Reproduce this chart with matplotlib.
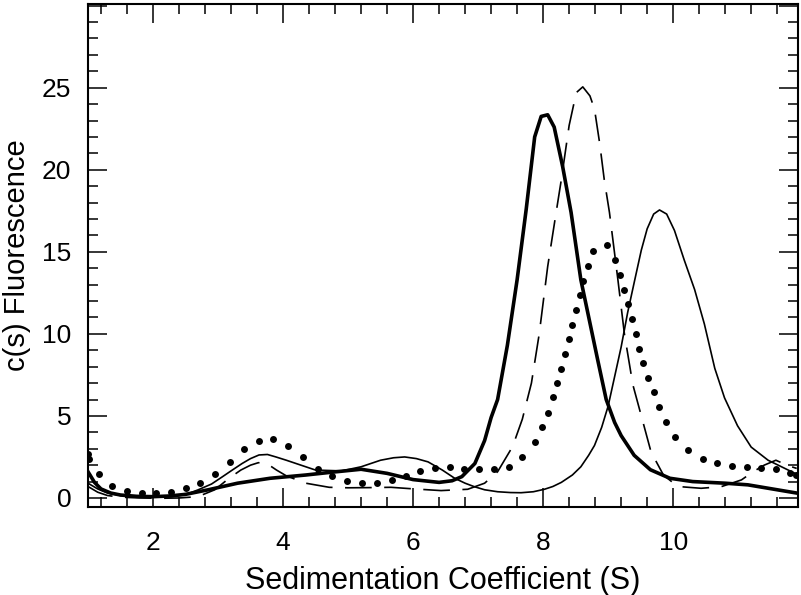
import numpy as np
import matplotlib
matplotlib.use("Agg")
import matplotlib.pyplot as plt
from matplotlib.ticker import MultipleLocator

plt.rcParams['font.family'] = ['Liberation Sans', 'DejaVu Sans']

# thick solid
thick_x = [1.0, 1.1, 1.2, 1.35, 1.5, 1.75, 2.0, 2.25, 2.5, 2.85, 3.3, 3.8, 4.35, 4.7, 5.2, 5.6,
           6.0, 6.4, 6.6, 6.75, 6.95, 7.1, 7.2, 7.3, 7.45, 7.6, 7.74, 7.87, 7.97, 8.07, 8.17, 8.3,
           8.43, 8.58, 8.71, 8.84, 8.97, 9.1, 9.2, 9.4, 9.65, 9.95, 10.3, 10.8, 11.15, 11.45, 11.9]
thick_y = [1.6, 0.95, 0.55, 0.3, 0.18, 0.1, 0.08, 0.12, 0.22, 0.5, 0.9, 1.2, 1.4, 1.55, 1.75, 1.5,
           1.12, 0.95, 1.05, 1.3, 2.1, 3.5, 4.9, 6.0, 9.3, 13.3, 17.6, 22.0, 23.25, 23.35, 22.6, 20.2,
           17.4, 13.3, 10.85, 8.4, 6.0, 4.6, 3.8, 2.6, 1.72, 1.2, 1.0, 0.9, 0.8, 0.6, 0.3]

# thin solid
thin_x = [1.0, 1.15, 1.3, 1.5, 1.77, 2.0, 2.28, 2.5, 2.69, 2.9, 3.07, 3.2, 3.37, 3.5, 3.63, 3.76,
          3.89, 4.05, 4.2, 4.5, 4.9, 5.2, 5.5, 5.7, 5.87, 6.05, 6.23, 6.45, 6.64, 6.8, 6.94, 7.1,
          7.3, 7.5, 7.66, 7.85, 8.02, 8.15, 8.28, 8.45, 8.58, 8.7, 8.79, 8.9, 9.0, 9.1, 9.2, 9.3,
          9.41, 9.51, 9.6, 9.7, 9.79, 9.9, 10.02, 10.17, 10.33, 10.48, 10.64, 10.79, 10.99, 11.2,
          11.46, 11.77, 11.9]
thin_y = [0.9, 0.55, 0.3, 0.15, 0.08, 0.06, 0.08, 0.2, 0.49, 0.85, 1.3, 1.65, 2.1, 2.4, 2.62, 2.65,
          2.5, 2.3, 2.1, 1.7, 1.65, 1.9, 2.3, 2.45, 2.5, 2.4, 2.2, 1.7, 1.2, 0.9, 0.69, 0.5,
          0.38, 0.33, 0.32, 0.38, 0.53, 0.7, 0.95, 1.4, 1.9, 2.6, 3.2, 4.3, 5.6, 7.4, 9.2, 11.3,
          13.3, 15.1, 16.4, 17.3, 17.55, 17.3, 16.3, 14.5, 12.7, 10.6, 7.9, 6.1, 4.4, 3.1,
          2.3, 1.7, 1.45]

# dashed
dash_x = [1.0, 1.15, 1.3, 1.5, 1.8, 2.1, 2.4, 2.69, 2.95, 3.17, 3.35, 3.5, 3.62, 3.75, 3.9, 4.05,
          4.35, 4.71, 5.0, 5.3, 5.66, 6.02, 6.43, 6.84, 7.1, 7.3, 7.53, 7.68, 7.82, 7.94, 8.07,
          8.2, 8.28, 8.4, 8.51, 8.61, 8.72, 8.79, 8.87, 8.94, 9.02, 9.15, 9.25, 9.38, 9.51, 9.66,
          9.85, 10.07, 10.43, 10.74, 11.05, 11.23, 11.4, 11.58, 11.75, 11.9]
dash_y = [0.7, 0.35, 0.15, 0.05, 0.0, -0.02, 0.0, 0.08, 0.5, 1.2, 1.7, 2.0, 2.15, 2.1, 1.7, 1.35,
          0.9, 0.65, 0.62, 0.63, 0.65, 0.55, 0.45, 0.53, 0.9, 1.6, 3.13, 4.8, 7.0, 10.0, 14.1,
          17.4, 19.4, 22.7, 24.7, 25.05, 24.5, 23.7, 21.6, 19.4, 17.4, 13.3, 10.0, 6.9, 5.0, 2.8,
          1.4, 0.7, 0.59, 0.69, 1.1, 1.6, 2.0, 2.3, 2.0, 1.8]

# dotted (dot centres)
dot_x = [1.0, 1.02, 1.17, 1.37, 1.6, 1.83, 2.05, 2.28, 2.5, 2.73, 2.95, 3.18, 3.4, 3.63, 3.85,
         4.08, 4.31, 4.53, 4.76, 4.98, 5.22, 5.44, 5.67, 5.89, 6.11, 6.34, 6.56, 6.79, 7.02, 7.25,
         7.47, 7.68, 7.87, 7.98, 8.08, 8.15, 8.22, 8.28, 8.34, 8.40, 8.45, 8.51, 8.56, 8.62, 8.69,
         8.76, 8.98, 9.11, 9.18, 9.25, 9.30, 9.37, 9.43, 9.48, 9.54, 9.62, 9.70, 9.78, 9.89,
         10.03, 10.23, 10.46, 10.68, 10.90, 11.13, 11.35, 11.58, 11.80, 11.89]
dot_y = [2.65, 2.4, 1.46, 0.73, 0.45, 0.32, 0.32, 0.38, 0.59, 0.9, 1.44, 2.2, 2.97, 3.5, 3.6,
         3.17, 2.48, 1.77, 1.34, 1.04, 0.93, 0.93, 1.1, 1.34, 1.65, 1.85, 1.9, 1.79, 1.75, 1.75,
         1.9, 2.5, 3.4, 4.3, 5.2, 6.14, 6.99, 7.87, 8.78, 9.68, 10.57, 11.46, 12.36, 13.25, 14.15,
         15.06, 15.4, 14.5, 13.6, 12.7, 11.8, 10.9, 10.0, 9.1, 8.2, 7.3, 6.45, 5.57, 4.65,
         3.74, 2.93, 2.36, 2.11, 1.95, 1.87, 1.81, 1.75, 1.54, 1.4]

fig = plt.figure(figsize=(8.01, 5.95), dpi=100)
ax = fig.add_axes([88/801, 1-507/595, (798-88)/801, (507-4)/595])

ax.plot(thin_x, thin_y, color='k', lw=1.2)
ax.plot(dash_x, dash_y, color='k', lw=1.2, dashes=(16, 7.5))
ax.plot(thick_x, thick_y, color='k', lw=2.6)
ax.plot(dot_x, dot_y, 'o', color='k', ms=5, mew=0)

ax.set_xlim(1, 11.92)
ax.set_ylim(-0.55, 30.1)
ax.xaxis.set_major_locator(MultipleLocator(2))
ax.xaxis.set_minor_locator(MultipleLocator(0.4))
ax.yaxis.set_minor_locator(MultipleLocator(1))
ax.set_yticks([0, 5, 10, 15, 20, 25, 30])
ax.set_yticklabels(['0', '5', '10', '15', '20', '25', ''])
ax.tick_params(which='both', direction='in', top=True, right=True, width=1.1, labelsize=19)
ax.tick_params(which='major', length=14)
ax.tick_params(which='minor', length=7)
ax.tick_params(axis='x', pad=17)
ax.tick_params(axis='y', pad=12)
for s in ax.spines.values():
    s.set_linewidth(1.5)

ax.set_xlabel('Sedimentation Coefficient (S)', fontsize=22, labelpad=8)
ax.set_ylabel('c(s) Fluorescence', fontsize=21, labelpad=8)

fig.savefig('out.png', dpi=100)
